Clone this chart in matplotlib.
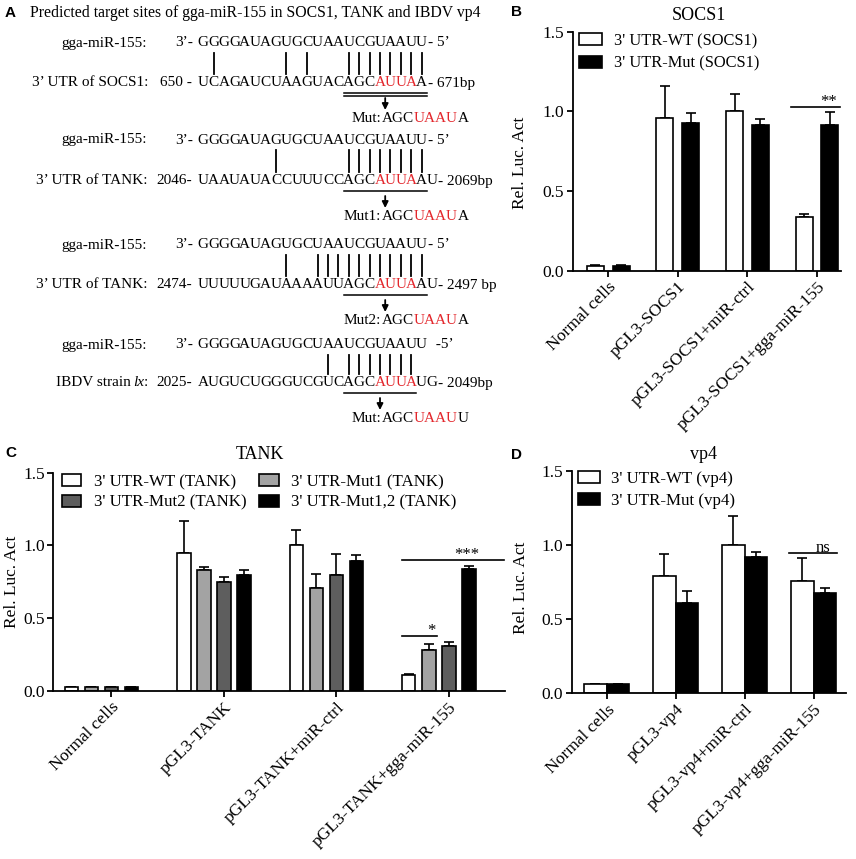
import matplotlib
matplotlib.use("Agg")
import matplotlib.pyplot as plt
import numpy as np

plt.rcParams['font.family'] = ['Liberation Serif', 'DejaVu Serif']

# ---- panel A: sequence alignments
mir_label = "gga-miR-155:"
mir_seq = "GGGGAUAGUGCUAAUCGUAAUU"
mir_end = ["- 5\u2019", "- 5\u2019", "- 5\u2019", "  -5\u2019"]
target_labels = ["3\u2019 UTR of SOCS1:", "3\u2019 UTR of TANK:", "3\u2019 UTR of TANK:", "IBDV strain lx:"]
target_start = ["650 -", "2046-", "2474-", "2025-"]
target_seqs = ["UCAGAUCUAAGUACAGCAUUAA", "UAAUAUACCUUUCCAGCAUUAAU",
               "UUUUUGAUAAAAUUAGCAUUAAU", "AUGUCUGGGUCGUCAGCAUUAUG"]
target_end = ["- 671bp", "- 2069bp", "- 2497 bp", "- 2049bp"]
pair_idx = [[1, 8, 10] + list(range(14, 22)),
            [7] + list(range(14, 22)),
            [8] + list(range(11, 22)),
            [12] + list(range(14, 21))]
site_span = [(14, 21), (14, 21), (14, 21), (14, 20)]
red_idx = [17, 18, 19, 20]
mut_names = ["Mut:", "Mut1:", "Mut2:", "Mut:"]
mut_seqs = ["AGCUAAUA", "AGCUAAUA", "AGCUAAUA", "AGCUAAUU"]

# ---- panel B: SOCS1
cats_b = ["Normal cells", "pGL3-SOCS1", "pGL3-SOCS1+miR-ctrl", "pGL3-SOCS1+gga-miR-155"]
socs1_wt = [0.03, 0.96, 1.00, 0.335]
socs1_wt_err = [0.003, 0.20, 0.11, 0.02]
socs1_mut = [0.03, 0.93, 0.915, 0.915]
socs1_mut_err = [0.003, 0.06, 0.035, 0.08]

# ---- panel C: TANK
cats_c = ["Normal cells", "pGL3-TANK", "pGL3-TANK+miR-ctrl", "pGL3-TANK+gga-miR-155"]
tank_wt = [0.025, 0.95, 1.00, 0.11]
tank_wt_err = [0.003, 0.22, 0.108, 0.007]
tank_mut1 = [0.025, 0.83, 0.705, 0.28]
tank_mut1_err = [0.002, 0.023, 0.096, 0.04]
tank_mut2 = [0.025, 0.75, 0.80, 0.31]
tank_mut2_err = [0.002, 0.03, 0.14, 0.026]
tank_mut12 = [0.025, 0.80, 0.895, 0.84]
tank_mut12_err = [0.002, 0.032, 0.04, 0.022]

# ---- panel D: vp4
cats_d = ["Normal cells", "pGL3-vp4", "pGL3-vp4+miR-ctrl", "pGL3-vp4+gga-miR-155"]
vp4_wt = [0.06, 0.79, 1.00, 0.757]
vp4_wt_err = [0.004, 0.146, 0.195, 0.157]
vp4_mut = [0.06, 0.61, 0.92, 0.674]
vp4_mut_err = [0.004, 0.08, 0.032, 0.036]

RED = '#e3262b'
FS_A = 11

fig = plt.figure(figsize=(8.56, 8.59), dpi=100)
renderer = fig.canvas.get_renderer()
ov = fig.add_axes([0, 0, 1, 1])
ov.set_xlim(0, 856)
ov.set_ylim(859, 0)
ov.axis('off')

# panel letters
for lab, (px, py) in zip("ABCD", [(10, 13), (517, 12), (11, 453), (517, 455)]):
    ov.text(px, py, lab, fontsize=11, fontweight='bold', family=['Liberation Sans', 'DejaVu Sans'],
            ha='center', va='center')

ov.text(30, 13, "Predicted target sites of gga-miR-155 in SOCS1, TANK and IBDV vp4",
        fontsize=11.3, ha='left', va='center')

x0 = 198
pitch = 10.4
mir_y = [43, 140, 245, 345]
tgt_y = [83, 181, 285, 383]


def seq_text(xs, y, seq, p, red=()):
    for i, ch in enumerate(seq):
        ov.text(xs + p * (i + 0.5), y, ch, fontsize=FS_A, ha='center', va='center',
                color=RED if i in red else 'black')


def pieces_text(xs, y, pieces):
    # consecutive runs of text, each in its own colour
    for s, col in pieces:
        t = ov.text(xs, y, s, fontsize=FS_A, ha='left', va='center', color=col)
        xs += t.get_window_extent(renderer).width


for r in range(4):
    ym, yt = mir_y[r], tgt_y[r]
    # miRNA row
    ov.text(147, ym, mir_label, fontsize=FS_A, ha='right', va='center')
    ov.text(193, ym, "3\u2019-", fontsize=FS_A, ha='right', va='center')
    seq_text(x0, ym, mir_seq, pitch)
    ov.text(x0 + pitch * len(mir_seq) + 1, ym, mir_end[r], fontsize=FS_A, ha='left', va='center')
    # target row
    if r == 3:
        ov.text(148, yt, ":", fontsize=FS_A, ha='right', va='center')
        ov.text(144, yt, "lx", fontsize=FS_A, style='italic', ha='right', va='center')
        ov.text(131, yt, "IBDV strain", fontsize=FS_A, ha='right', va='center')
    else:
        ov.text(148, yt, target_labels[r], fontsize=FS_A, ha='right', va='center')
    ov.text(192, yt, target_start[r], fontsize=FS_A, ha='right', va='center')
    seq_text(x0, yt, target_seqs[r], pitch, red=red_idx)
    ov.text(x0 + pitch * len(target_seqs[r]) + 1, yt, target_end[r], fontsize=FS_A,
            ha='left', va='center')
    # base pairing lines
    for i in pair_idx[r]:
        xp = x0 + pitch * (i + 0.5)
        ov.plot([xp, xp], [ym + 10, yt - 9], color='black', lw=1.3)
    # seed underline
    s, e = site_span[r]
    xa, xb = x0 + pitch * s, x0 + pitch * (e + 1)
    ov.plot([xa, xb], [yt + 10, yt + 10], color='black', lw=1.1)
    if r == 0:
        ov.plot([xa, xb], [yt + 12.5, yt + 12.5], color='black', lw=1.1)
    xm = (xa + xb) / 2
    ov.annotate('', xy=(xm, yt + 27), xytext=(xm, yt + 15),
                arrowprops=dict(arrowstyle='-|>', color='black', lw=1.3, mutation_scale=9,
                                shrinkA=0, shrinkB=0))
    ov.text(381, yt + 36, mut_names[r], fontsize=FS_A, ha='right', va='center')
    m = mut_seqs[r]
    pieces_text(382, yt + 36, [(m[:3], 'black'), (m[3:7], RED), (m[7:], 'black')])


def style_axis(ax, cats, xlim):
    ax.spines[['top', 'right']].set_visible(False)
    ax.spines[['left', 'bottom']].set_linewidth(1.3)
    ax.tick_params(direction='out', length=4, width=1.3, labelsize=12.5, pad=2)
    ax.set_ylim(0, 1.5)
    ax.set_yticks([0, 0.5, 1.0, 1.5])
    ax.set_xlim(*xlim)
    ax.set_xticks(np.arange(len(cats)))
    ax.set_xticklabels(cats, rotation=45, ha='right', rotation_mode='anchor', fontsize=12.6)
    ax.set_ylabel("Rel. Luc. Act", fontsize=12.5)


def draw_bars(ax, series, errs, colors, offsets, width, labels):
    x = np.arange(len(series[0]))
    for vals, err, col, off, lab in zip(series, errs, colors, offsets, labels):
        ax.bar(x + off, vals, width, color=col, edgecolor='black', linewidth=1.2,
               label=lab, zorder=2)
        ax.errorbar(x + off, vals, yerr=[np.zeros(len(vals)), err], fmt='none',
                    ecolor='black', elinewidth=1.2, capsize=3.3, capthick=1.2, zorder=1)


# ---- B
axb = fig.add_axes([572.7 / 856, 1 - 270.7 / 859, 268.3 / 856, 239 / 859])
draw_bars(axb, [socs1_wt, socs1_mut], [socs1_wt_err, socs1_mut_err], ['white', 'black'],
          [-0.185, 0.185], 0.245, ["3' UTR-WT (SOCS1)", "3' UTR-Mut (SOCS1)"])
style_axis(axb, cats_b, (-0.51, 3.345))
axb.yaxis.set_label_coords(-0.165, 0.45)
axb.set_title("SOCS1", fontsize=13, x=0.471, y=1.051, pad=0)
axb.plot([2.63, 3.33], [1.03, 1.03], color='black', lw=1.2)
axb.text(3.16, 1.035, "**", fontsize=12, ha='center', va='baseline')
axb.legend(loc='upper left', bbox_to_anchor=(579 / 856, 1 - 33 / 859), bbox_transform=fig.transFigure,
           frameon=False, fontsize=11.8, borderpad=0, borderaxespad=0, handlelength=1.4,
           handleheight=0.75, handletextpad=0.75, labelspacing=0.42)

# ---- C
axc = fig.add_axes([53 / 856, 1 - 691 / 859, 452 / 856, 218.3 / 859])
draw_bars(axc, [tank_wt, tank_mut2, tank_mut1, tank_mut12],
          [tank_wt_err, tank_mut2_err, tank_mut1_err, tank_mut12_err],
          ['white', '#5e5e5e', '#a3a3a3', 'black'], [-0.356, 0.0, -0.178, 0.178], 0.12,
          ["3' UTR-WT (TANK)", "3' UTR-Mut2 (TANK)", "3' UTR-Mut1 (TANK)", "3' UTR-Mut1,2 (TANK)"])
style_axis(axc, cats_c, (-0.52, 3.5))
axc.yaxis.set_label_coords(-0.073, 0.5)
axc.set_title("TANK", fontsize=13, x=0.458, y=1.063, pad=0)
axc.plot([2.585, 3.49], [0.90, 0.90], color='black', lw=1.2)
axc.text(3.163, 0.905, "***", fontsize=12, ha='center', va='baseline')
axc.plot([2.585, 2.896], [0.378, 0.378], color='black', lw=1.2)
axc.text(2.843, 0.383, "*", fontsize=12, ha='center', va='baseline')
axc.legend(loc='upper left', bbox_to_anchor=(62 / 856, 1 - 474 / 859), bbox_transform=fig.transFigure,
           ncol=2, frameon=False, fontsize=12.2, borderpad=0, borderaxespad=0, handlelength=1.15,
           handleheight=0.72, handletextpad=0.72, labelspacing=0.28, columnspacing=0.75)

# ---- D
axd = fig.add_axes([571.7 / 856, 1 - 693.3 / 859, 274.3 / 856, 222.6 / 859])
draw_bars(axd, [vp4_wt, vp4_mut], [vp4_wt_err, vp4_mut_err], ['white', 'black'],
          [-0.165, 0.165], 0.33, ["3' UTR-WT (vp4)", "3' UTR-Mut (vp4)"])
style_axis(axd, cats_d, (-0.508, 3.47))
axd.yaxis.set_label_coords(-0.155, 0.475)
axd.set_title("vp4", fontsize=13, x=0.482, y=1.053, pad=0)
axd.plot([2.643, 3.339], [0.947, 0.947], color='black', lw=1.2)
axd.text(3.14, 0.954, "ns", fontsize=12, ha='center', va='baseline')
axd.legend(loc='upper left', bbox_to_anchor=(578 / 856, 1 - 471 / 859), bbox_transform=fig.transFigure,
           frameon=False, fontsize=12.2, borderpad=0, borderaxespad=0, handlelength=1.32,
           handleheight=0.72, handletextpad=0.6, labelspacing=0.33)

fig.savefig("out.png", dpi=100)
